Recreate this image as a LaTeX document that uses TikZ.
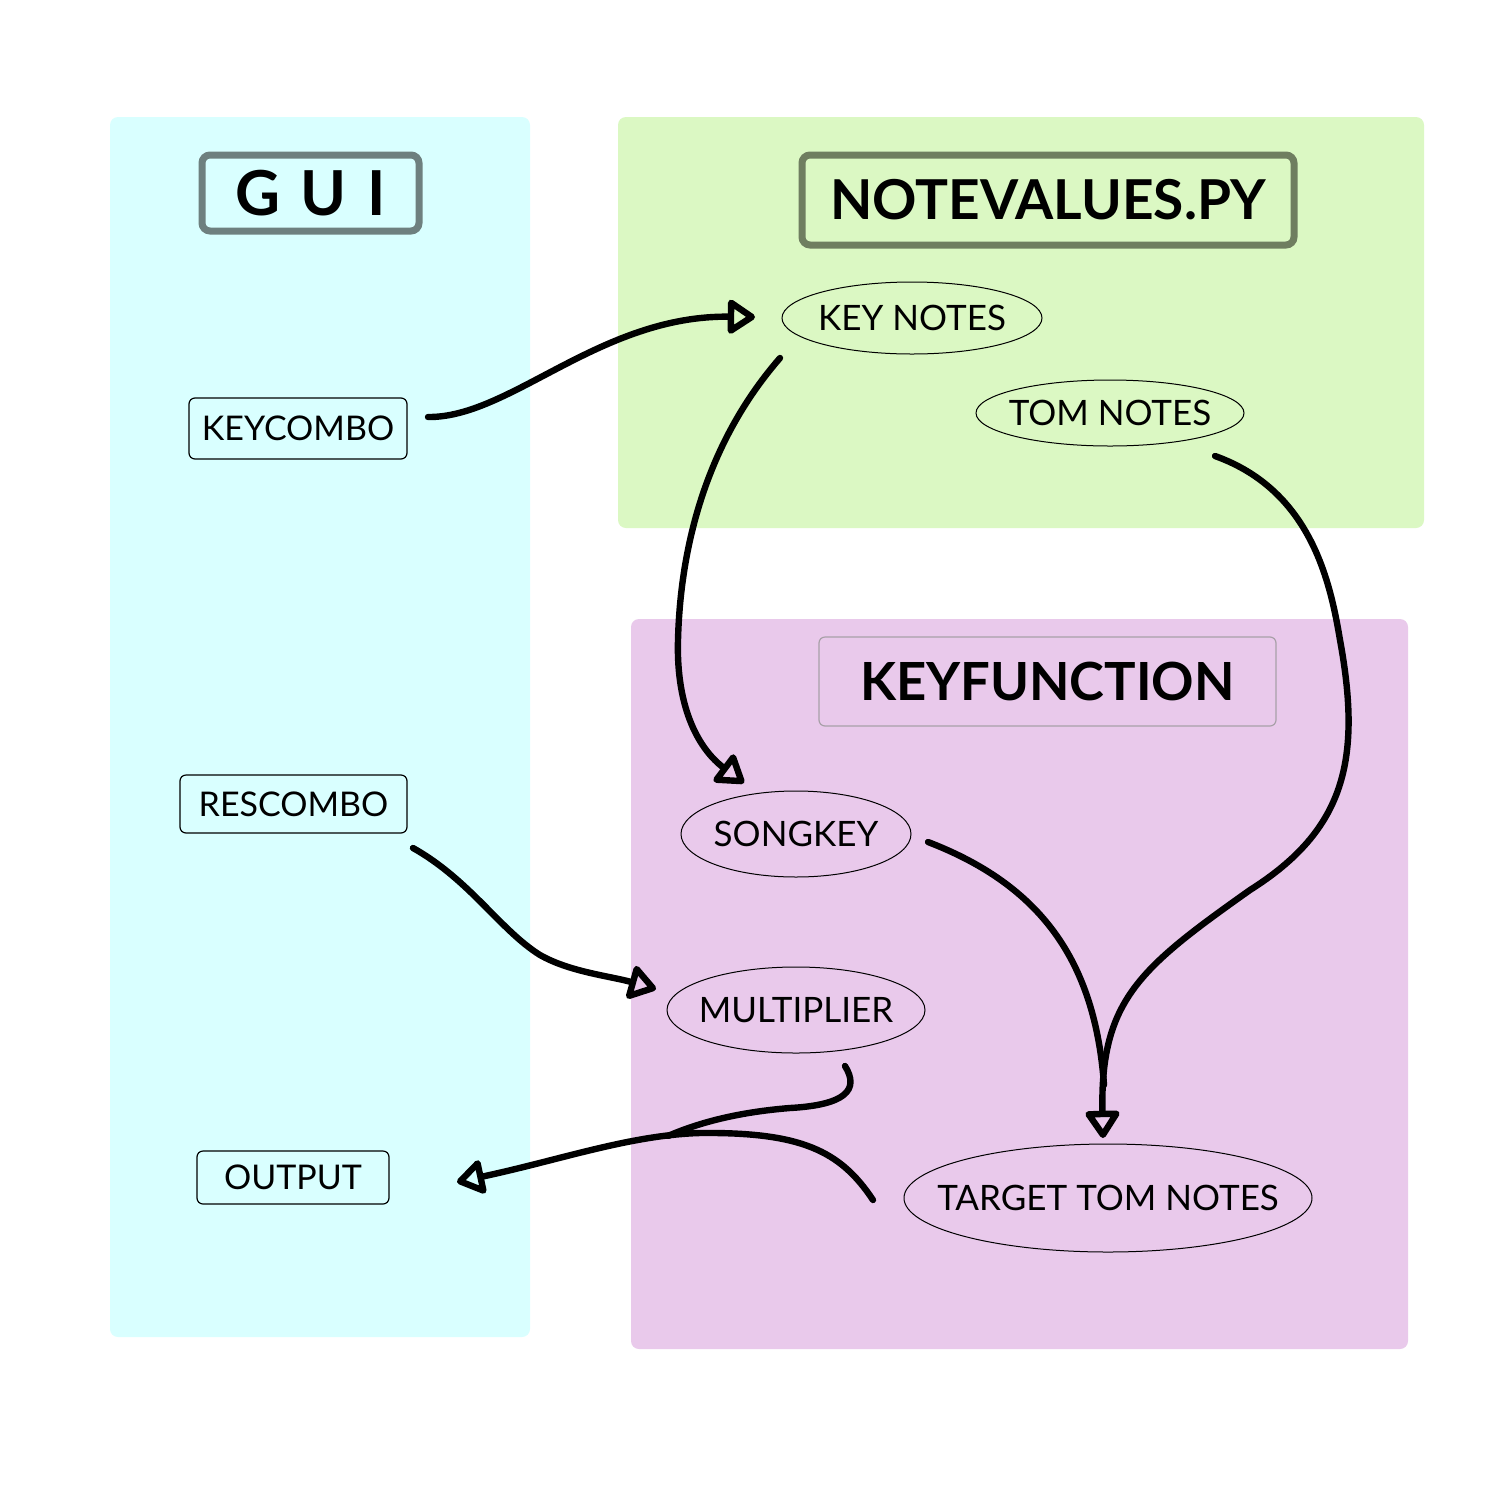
\documentclass[tikz,border=0pt]{standalone}
\usepackage{fontspec}
\setmainfont{Lato}
\usetikzlibrary{arrows.meta,shapes.geometric}
\definecolor{guibg}{HTML}{D9FFFF}
\definecolor{notebg}{HTML}{DBF8C3}
\definecolor{keybg}{HTML}{E9C9EB}
\definecolor{guiborder}{HTML}{6E807F}
\definecolor{noteborder}{HTML}{6F7E60}
\definecolor{keyborder}{HTML}{A8A0A8}
\newcommand{\ovaltext}[1]{\makebox[0pt][c]{\raisebox{-0.36em}[0pt][0pt]{#1}}}
\tikzset{
  panel/.style={rounded corners=4pt, draw=none},
  smallbox/.style={draw=black, line width=0.6pt, rounded corners=3pt, inner sep=0pt, font=\fontsize{17}{20}\selectfont},
  oval/.style={ellipse, draw=black, line width=0.5pt, inner sep=0pt, outer sep=0pt, text height=0pt, text depth=0pt, font=\fontsize{17.5}{20}\selectfont},
  title/.style={font=\bfseries\fontsize{27.5}{32}\selectfont, inner sep=0pt, rounded corners=3pt},
  conn/.style={line width=3.2pt, line cap=round, line join=round},
  tip/.style={-{Triangle[open,length=15pt,width=19pt,round]}},
}
\begin{document}
\begin{tikzpicture}[x=0.5pt,y=-0.5pt]
\useasboundingbox (0,0) rectangle (1500,1500);
\fill[white] (0,0) rectangle (1500,1500);
% panels
\fill[guibg, panel] (110,117) rectangle (530,1337);
\fill[notebg, panel] (618,117) rectangle (1424,528);
\fill[keybg, panel] (631,619) rectangle (1408,1349);
% titles
\node[draw=guiborder, line width=3.5pt, rounded corners=4pt, inner sep=0pt, minimum width=108.5pt, minimum height=38pt, font=\bfseries\fontsize{31}{34}\selectfont] (guititle) at (310.5,193) {G\hspace{0.33em}U\hspace{0.33em}I};
\node[title, draw=noteborder, line width=3.5pt, rounded corners=4pt, minimum width=246pt, minimum height=45pt] (notetitle) at (1048,200) {NOTEVALUES.PY};
\node[title, font=\bfseries\fontsize{26.3}{30}\selectfont, draw=keyborder, line width=0.6pt, fill=keybg, minimum width=228.5pt, minimum height=44.5pt] (keytitle) at (1047.5,681.5) {KEYFUNCTION};
% GUI nodes
\node[smallbox, minimum width=109pt, minimum height=30.5pt] (keycombo) at (298,428.5) {KEYCOMBO};
\node[smallbox, minimum width=113.5pt, minimum height=29pt] (rescombo) at (293.5,804) {RESCOMBO};
\node[smallbox, minimum width=96pt, minimum height=26.5pt] (output) at (293,1177.5) {OUTPUT};
% ellipses
\node[oval, minimum width=130pt, minimum height=36pt] (keynotes) at (912,318) {\ovaltext{KEY NOTES}};
\node[oval, minimum width=134pt, minimum height=33pt] (tomnotes) at (1110,413) {\ovaltext{TOM NOTES}};
\node[oval, minimum width=115pt, minimum height=43pt] (songkey) at (796,834) {\ovaltext{SONGKEY}};
\node[oval, minimum width=129pt, minimum height=43pt] (multiplier) at (796,1010) {\ovaltext{MULTIPLIER}};
\node[oval, minimum width=204pt, minimum height=54pt] (target) at (1108,1198) {\ovaltext{TARGET TOM NOTES}};
% connector coordinates
\coordinate (kcout) at (428,417);
\coordinate (knin) at (755,317);
\coordinate (knout) at (780,358);
\coordinate (skin) at (744,783);
\coordinate (tnout) at (1215,456);
\coordinate (ttin) at (1103,1138);
\coordinate (skout) at (928,842);
\coordinate (merge1) at (1104,1085);
\coordinate (rcout) at (413,848);
\coordinate (muin) at (656,989);
\coordinate (muout) at (845,1066);
\coordinate (merge2) at (668,1136);
\coordinate (ttout) at (873,1200);
\coordinate (outin) at (457,1182);
% connectors
\draw[conn, tip] (kcout) .. controls (510,418) and (600,315) .. (knin);
\draw[conn, tip] (knout) .. controls (700,450) and (680,560) .. (678,640) .. controls (676,710) and (700,750) .. (skin);
\draw[conn, tip] (tnout) .. controls (1310,490) and (1330,580) .. (1340,640) .. controls (1362,760) and (1345,830) .. (1250,890) .. controls (1140,968) and (1100,1000) .. (ttin);
\draw[conn] (skout) .. controls (1040,885) and (1095,960) .. (merge1);
\draw[conn, tip] (rcout) .. controls (470,880) and (500,930) .. (540,955) .. controls (570,972) and (610,976) .. (muin);
\draw[conn] (muout) .. controls (860,1090) and (845,1105) .. (790,1108) .. controls (740,1112) and (700,1122) .. (merge2);
\draw[conn, tip] (ttout) .. controls (840,1150) and (800,1132) .. (700,1133) .. controls (630,1135) and (560,1160) .. (outin);
\end{tikzpicture}
\end{document}
